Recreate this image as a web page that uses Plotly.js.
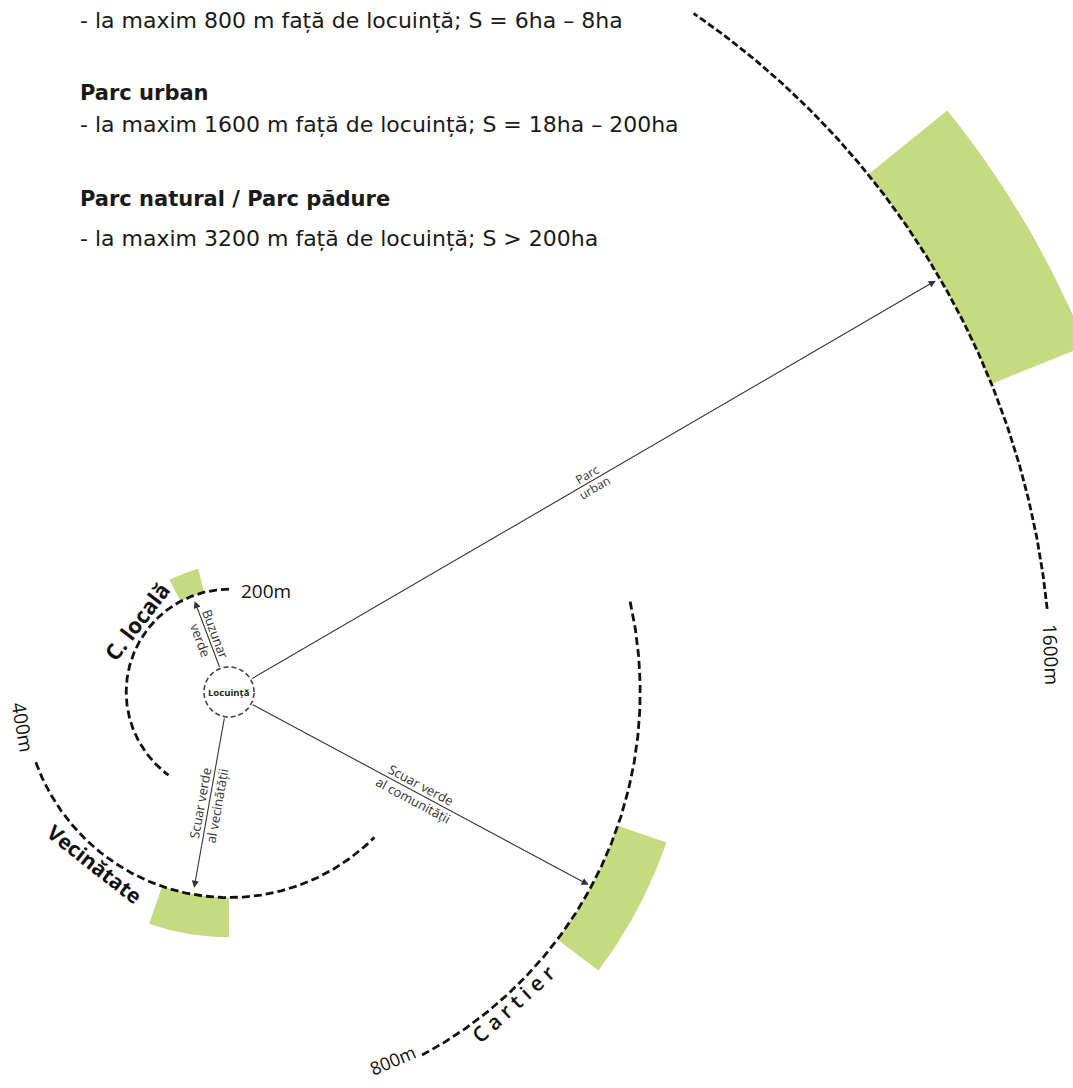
<!DOCTYPE html>
<html><head><meta charset="utf-8">
<script src="https://cdn.plot.ly/plotly-3.0.1.min.js"></script>
<style>html,body{margin:0;padding:0;background:#fff}</style>
</head><body><div id="chart" style="width:1073px;height:1088px"></div>
<script>
// ---- data (distances in metres, angles in degrees, counter-clockwise from east) ----
const ringLabels = ['200m', '400m', '800m', '1600m'];
const ringRadius = [200, 400, 800, 1600];
const ringFrom   = [90, 200, -62, 5.8];
const ringTo     = [234, 315, 13, 55.6];

const zoneNames  = ['C. locală', 'Vecinătate', 'C a r t i e r'];

const parkInner  = [200, 400, 800, 1600];
const parkOuter  = [247, 477, 900, 1798];
const parkFrom   = [104, -109, -37, 22];
const parkTo     = [118, -90, -19, 39];

const arrowTop    = ['Buzunar', 'Parc', 'Scuar verde', 'Scuar verde'];
const arrowBottom = ['verde', 'urban', 'al vecinătății', 'al comunității'];
const arrowAngle  = [110.7, 30.2, -100.1, -28.2];
const arrowReach  = [189, 1591, 387, 794];

const homeLabel  = 'Locuință';
const homeRadius = 49;

const infoLines = [
  '- la maxim 800 m față de locuință; S = 6ha – 8ha',
  'Parc urban',
  '- la maxim 1600 m față de locuință; S = 18ha – 200ha',
  'Parc natural / Parc pădure',
  '- la maxim 3200 m față de locuință; S > 200ha'
];
const infoBold = [false, true, false, true, false];

// ---- helpers ----
const W = 1073, H = 1088, K = 0.514, CX = 229, CY = 692;
const rad = d => d * Math.PI / 180;
const pol = (r, a) => [r * Math.cos(rad(a)), r * Math.sin(rad(a))];
function arcPts(r, a0, a1, n) {
  const xs = [], ys = [];
  for (let i = 0; i <= n; i++) { const a = a0 + (a1 - a0) * i / n; const p = pol(r, a); xs.push(p[0]); ys.push(p[1]); }
  return [xs, ys];
}

const traces = [];
const GREEN = '#c6da82';
// green sectors
for (let i = 0; i < parkInner.length; i++) {
  const o = arcPts(parkOuter[i], parkFrom[i], parkTo[i], 40);
  const n = arcPts(parkInner[i], parkTo[i], parkFrom[i], 40);
  traces.push({ x: o[0].concat(n[0]), y: o[1].concat(n[1]), mode: 'lines', fill: 'toself',
    fillcolor: GREEN, line: { width: 0, color: GREEN }, hoverinfo: 'skip' });
}
// dashed rings
for (let i = 0; i < ringRadius.length; i++) {
  const p = arcPts(ringRadius[i], ringFrom[i], ringTo[i], 300);
  traces.push({ x: p[0], y: p[1], mode: 'lines', hoverinfo: 'skip',
    line: { color: '#111', width: 2.8, dash: i === 3 ? '7px,3px' : '8px,4px' } });
}
// home circle
const hc = arcPts(homeRadius, 0, 360, 120);
traces.push({ x: hc[0], y: hc[1], mode: 'lines', hoverinfo: 'skip',
  line: { color: '#444', width: 1.6, dash: '5px,3px' } });

const ann = [];
// arrows
for (let i = 0; i < arrowAngle.length; i++) {
  const h = pol(arrowReach[i], arrowAngle[i]);
  const t = pol(homeRadius, arrowAngle[i]);
  ann.push({ x: h[0], y: h[1], ax: t[0], ay: t[1], xref: 'x', yref: 'y', axref: 'x', ayref: 'y',
    text: '', showarrow: true, arrowhead: 2, arrowsize: 1.3, arrowwidth: 1.1, arrowcolor: '#333',
    standoff: 0, startstandoff: 0 });
}
// arrow captions
const capR = [115, 815, 223, 415];
const capRev = [true, false, true, false];
const capD = [8, 7.5, 8.5, 8.5];
const capSize = [13, 12, 13, 13];
for (let i = 0; i < arrowAngle.length; i++) {
  const p = pol(capR[i], arrowAngle[i]);
  let a = -arrowAngle[i] + (capRev[i] ? -180 : 0);
  a = ((a + 540) % 360) - 180;
  const sx = Math.sin(rad(a)), sy = Math.cos(rad(a));
  [[arrowTop[i], 1], [arrowBottom[i], -1]].forEach(([txt, s]) => {
    ann.push({ x: p[0], y: p[1], xref: 'x', yref: 'y', text: txt, showarrow: false, textangle: a,
      xshift: s * capD[i] * sx, yshift: s * capD[i] * sy, xanchor: 'center', yanchor: 'middle',
      font: { family: 'Open Sans', size: capSize[i], color: '#333' } });
  });
}
// zone names along rings
const zonePos = [[227, 142.5, -52.5, 22, 700], [425, 232, 38, 21, 700], [821, -47.7, -42.3, 21, 600]];
zoneNames.forEach((z, i) => {
  const [r, a, ta, fs, fw] = zonePos[i];
  const p = pol(r, a);
  ann.push({ x: p[0], y: p[1], xref: 'x', yref: 'y', text: z, showarrow: false, textangle: ta,
    xanchor: 'center', yanchor: 'middle',
    font: { family: 'Open Sans', size: fs, weight: fw, color: '#111' } });
});
// ring distance labels
const ringLblPos = [[null, null, 0], [407, 189.6, 80], [784, -66, -23], [1601, 2.65, 87.4]];
ringLabels.forEach((l, i) => {
  let x, y;
  if (i === 0) { x = (266 - CX) / K; y = (CY - 591) / K; }
  else { const p = pol(ringLblPos[i][0], ringLblPos[i][1]); x = p[0]; y = p[1]; }
  ann.push({ x: x, y: y, xref: 'x', yref: 'y', text: l, showarrow: false, textangle: ringLblPos[i][2],
    xanchor: 'center', yanchor: 'middle', font: { family: 'Open Sans', size: i === 2 ? 18 : 19, color: '#111' } });
});
// home label
ann.push({ x: 0, y: 0, xref: 'x', yref: 'y', text: homeLabel, showarrow: false,
  font: { family: 'Open Sans', size: 9.5, weight: 700, color: '#222' } });
// info text block
const infoY = [20, 93, 125, 199, 238];
infoLines.forEach((t, i) => {
  ann.push({ x: 78 / W, y: 1 - infoY[i] / H, xref: 'paper', yref: 'paper', text: t, showarrow: false,
    xanchor: 'left', yanchor: 'middle',
    font: { family: 'DejaVu Sans', size: infoBold[i] ? 21 : 22, weight: infoBold[i] ? 700 : 400, color: '#1a1a1a' } });
});

const layout = {
  width: W, height: H, margin: { l: 0, r: 0, t: 0, b: 0 },
  paper_bgcolor: '#fff', plot_bgcolor: '#fff', showlegend: false,
  xaxis: { range: [-CX / K, (W - CX) / K], visible: false, fixedrange: true },
  yaxis: { range: [-(H - CY) / K, CY / K], visible: false, fixedrange: true },
  annotations: ann
};
Plotly.newPlot('chart', traces, layout, { staticPlot: true, displayModeBar: false });
</script></body></html>
